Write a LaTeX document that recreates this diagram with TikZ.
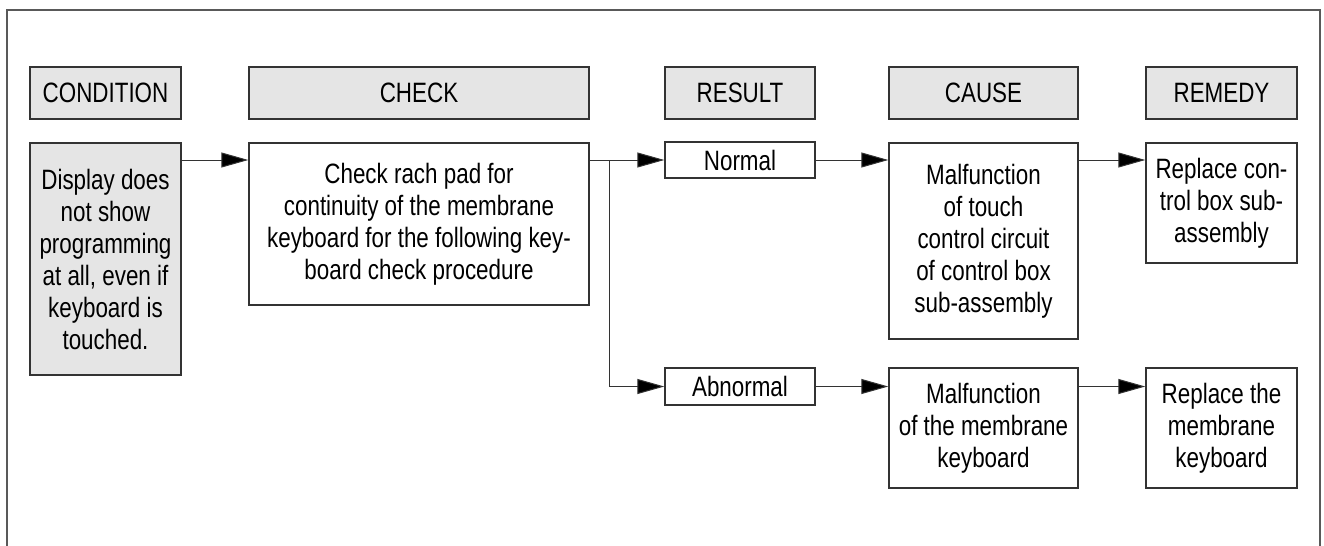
\documentclass[tikz,border=0pt]{standalone}
\usepackage{fontspec}
\setmainfont{Liberation Sans}[FakeStretch=0.8]
\usetikzlibrary{arrows.meta}
\tikzset{
    plain-box/.style = {draw=black!80, line width=0.7pt, rectangle, inner sep=0pt, align=center, font=\fontsize{14}{16}\selectfont},
    head-box/.style = {plain-box, fill=gray!20, minimum height=26pt},
    flow-arrow/.style = {draw=black!80, line width=0.5pt, -{Triangle[length=13.5pt,width=7.5pt,fill=black]}},
}
\begin{document}
\begin{tikzpicture}[x=0.5pt, y=-0.5pt]
\useasboundingbox (0,0) rectangle (1324,546);
\draw[black!65, line width=1pt] (7,546) -- (7,10) -- (1320,10) -- (1320,546);

\node[head-box, minimum width=75.5pt] (condition-head) at (105.5,93) {CONDITION};
\node[head-box, minimum width=170pt] (check-head) at (419,93) {CHECK};
\node[head-box, minimum width=75pt] (result-head) at (740,93) {RESULT};
\node[head-box, minimum width=94.5pt] (cause-head) at (983.5,93) {CAUSE};
\node[head-box, minimum width=75.5pt] (remedy-head) at (1221.5,93) {REMEDY};

\node[plain-box, fill=gray!20, minimum width=75.5pt, minimum height=116pt] (display) at (105.5,259)
    {Display does\\not show\\programming\\at all, even if\\keyboard is\\touched.};
\node[plain-box, minimum width=170pt, minimum height=81pt] (check) at (419,224)
    {Check rach pad for\\continuity of the membrane\\keyboard for the following key-\\board check procedure};
\node[plain-box, minimum width=75pt, minimum height=18pt] (normal) at (740,160) {Normal};
\node[plain-box, minimum width=75pt, minimum height=18.5pt] (abnormal) at (740,386.5) {Abnormal};
\node[plain-box, minimum width=94.5pt, minimum height=98pt] (cause-top) at (983.5,241)
    {Malfunction\\of touch\\control circuit\\of control box\\sub-assembly};
\node[plain-box, minimum width=94.5pt, minimum height=60pt] (cause-bottom) at (983.5,428)
    {Malfunction\\of the membrane\\keyboard};
\node[plain-box, minimum width=75.5pt, minimum height=60pt] (remedy-top) at (1221.5,203)
    {Replace con-\\trol box sub-\\assembly};
\node[plain-box, minimum width=75.5pt, minimum height=60pt] (remedy-bottom) at (1221.5,428)
    {Replace the\\membrane\\keyboard};

\coordinate (branch) at (609,160);
\draw[flow-arrow] (display.east |- normal.west) -- (check.west |- normal.west);
\draw[flow-arrow] (check.east |- normal.west) -- (normal.west);
\draw[flow-arrow] (branch) |- (abnormal.west);
\draw[flow-arrow] (normal.east) -- (cause-top.west |- normal.east);
\draw[flow-arrow] (abnormal.east) -- (cause-bottom.west |- abnormal.east);
\draw[flow-arrow] (cause-top.east |- normal.east) -- (remedy-top.west |- normal.east);
\draw[flow-arrow] (cause-bottom.east |- abnormal.east) -- (remedy-bottom.west |- abnormal.east);
\end{tikzpicture}
\end{document}
